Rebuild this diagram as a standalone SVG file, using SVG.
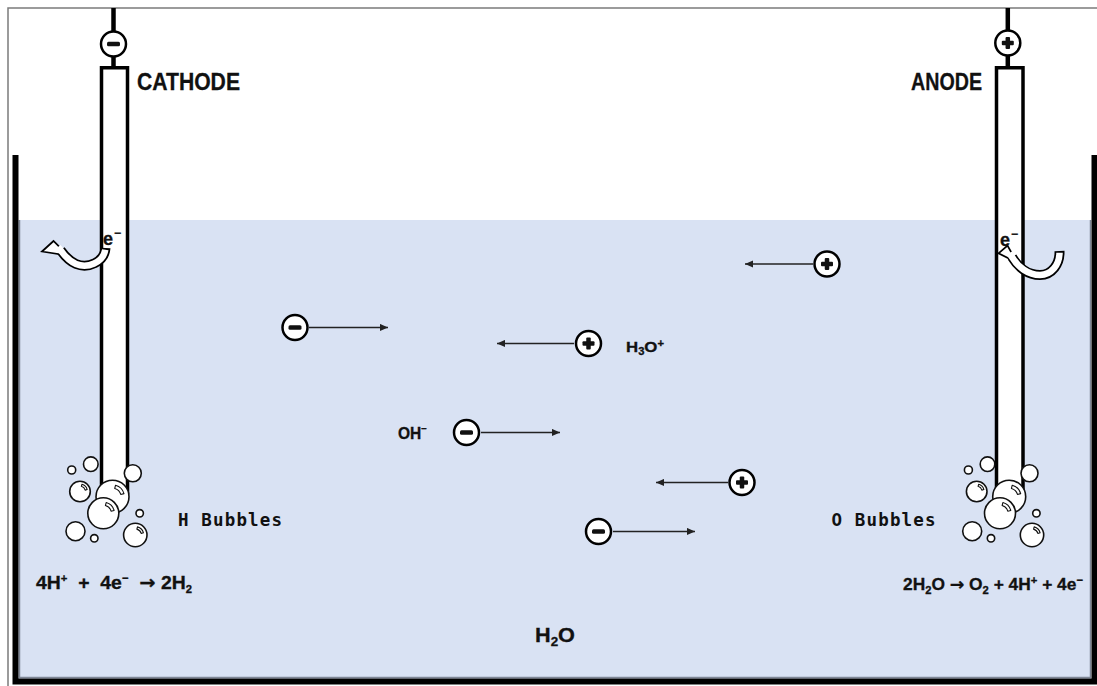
<svg xmlns="http://www.w3.org/2000/svg" width="1097" height="686" viewBox="0 0 1097 686">
<style>
.frame{fill:none;stroke:#7b7b7b;stroke-width:1.5}
.water{fill:#d9e2f3}
.rim{fill:none;stroke:#7f8796;stroke-width:1.5}
.wall{fill:none;stroke:#000;stroke-width:6}
.wire{stroke:#000;stroke-width:4.5}
.rod{fill:#fff;stroke:#000;stroke-width:3.5}
.ring{fill:#fff;stroke:#000;stroke-width:2.5}
.sign{fill:#111}
.bub{fill:#fff;stroke:#111;stroke-width:1.6}
.hl{fill:#fff;stroke:#111;stroke-width:1.1;stroke-linejoin:round;vector-effect:non-scaling-stroke}
.flow{fill:none;stroke:#222;stroke-width:1.5;marker-end:url(#tip)}
.bend-o{fill:none;stroke:#000;stroke-width:10}
.bend-i{fill:none;stroke:#fff;stroke-width:6.5;stroke-dasharray:0 1.75 1000}
.head{fill:#fff;stroke:#000;stroke-width:1.75;stroke-linejoin:miter}
.t{font-family:"Liberation Sans",Arial,sans-serif;font-weight:bold;fill:#111;stroke:#111;stroke-width:0.3}
.arw{font-family:"DejaVu Sans",sans-serif;font-weight:bold}
.mono{font-family:"DejaVu Sans Mono",monospace;font-weight:bold;fill:#111}
</style>
<defs>
  <marker id="tip" viewBox="0 0 8 8" refX="8" refY="4" markerWidth="8" markerHeight="8" markerUnits="userSpaceOnUse" orient="auto">
    <path d="M0,0.4 L8,4 L0,7.6 Z" fill="#222"/>
  </marker>
  <!-- negative / positive charge badges -->
  <g id="neg">
    <circle r="12.5" class="ring"/>
    <rect x="-6.5" y="-2.25" width="13" height="4.5" rx="1.5" class="sign"/>
  </g>
  <g id="pos">
    <circle r="12.5" class="ring"/>
    <rect x="-6" y="-2.25" width="12" height="4.5" rx="1" class="sign"/>
    <rect x="-2.25" y="-6" width="4.5" height="12" rx="1" class="sign"/>
  </g>
  <!-- glint on a unit bubble -->
  <path id="hl" class="hl" d="M0.186 -0.695 A0.72 0.72 0 0 1 0.695 -0.186 L0.502 -0.135 A0.52 0.52 0 0 0 0.135 -0.502 Z"/>
  <!-- gas bubble cluster at the foot of an electrode -->
  <g id="bubbles">
    <circle class="bub" cx="71.7" cy="470" r="4"/>
    <circle class="bub" cx="90.8" cy="464.2" r="7.3"/>
    <circle class="bub" cx="132.8" cy="473.3" r="8.5"/>
    <circle class="bub" cx="80" cy="491.5" r="10.3"/>
    <use href="#hl" transform="translate(80 491.5) scale(10.3)"/>
    <circle class="bub" cx="112.5" cy="496.7" r="16.5"/>
    <use href="#hl" transform="translate(112.5 496.7) scale(16.5)"/>
    <circle class="bub" cx="103.3" cy="513.3" r="15.5"/>
    <use href="#hl" transform="translate(103.3 513.3) scale(15.5)"/>
    <circle class="bub" cx="139.7" cy="513.3" r="3.7"/>
    <circle class="bub" cx="75.5" cy="531.2" r="9.5"/>
    <circle class="bub" cx="94.3" cy="538.3" r="3.7"/>
    <circle class="bub" cx="135.3" cy="535" r="11.7"/>
    <use href="#hl" transform="translate(135.3 535) scale(11.7)"/>
  </g>
</defs>

<!-- page frame -->
<path class="frame" d="M8 686 V8 H1097"/>

<!-- tank and electrolyte -->
<g id="tank">
  <rect class="water" x="18" y="220" width="1073" height="459"/>
  <path class="rim" d="M19.5 220 V677.5 H1090.5 V220"/>
  <path class="wall" d="M15.5 155 V681.5 H1094.5 V155"/>
</g>

<!-- cathode -->
<g id="cathode">
  <line class="wire" x1="113.5" y1="8" x2="113.5" y2="68"/>
  <use href="#neg" x="113.5" y="44"/>
  <rect class="rod" x="101.5" y="67.75" width="26" height="425"/>
  <text class="t" x="137" y="90" font-size="24" textLength="103" lengthAdjust="spacingAndGlyphs">CATHODE</text>
</g>

<!-- anode -->
<g id="anode">
  <line class="wire" x1="1007.8" y1="8" x2="1007.8" y2="68"/>
  <use href="#pos" x="1007.8" y="43"/>
  <rect class="rod" x="996.5" y="67.75" width="26.5" height="425"/>
  <text class="t" x="911" y="90" font-size="24" textLength="71" lengthAdjust="spacingAndGlyphs">ANODE</text>
</g>

<g id="cathode-bubbles">
  <use href="#bubbles"/>
  <text class="mono" x="178" y="526" font-size="17.5" textLength="104" lengthAdjust="spacing">H Bubbles</text>
</g>
<g id="anode-bubbles">
  <use href="#bubbles" transform="translate(896.7 0)"/>
  <text class="mono" x="831.5" y="526" font-size="17.5" textLength="104" lengthAdjust="spacing">O Bubbles</text>
</g>

<!-- electron flow at the electrode surfaces -->
<g id="cathode-electron">
  <path class="bend-o" d="M105.5 248 C104.5 262 88 269 76 264 C69 261 64 255 60.5 250"/>
  <polygon class="head" points="42,251.5 53.5,241 68,255.5"/>
  <path class="bend-i" d="M105.5 248 C104.5 262 88 269 76 264 C69 261 64 255 60.5 250 L58 247"/>
  <text class="t" x="103" y="245" font-size="18">e<tspan font-size="12" dx="1" dy="-8">−</tspan></text>
</g>
<g id="anode-electron">
  <path class="bend-o" d="M1059.5 251 C1060 264 1052 275 1040 275 C1028 275 1018 267 1012 257"/>
  <polygon class="head" points="998.5,253.3 1007.5,245.5 1017,262.5"/>
  <path class="bend-i" d="M1059.5 251 C1060 264 1052 275 1040 275 C1028 275 1018 267 1012 257 L1009.5 253"/>
  <text class="t" x="1000" y="246" font-size="18">e<tspan font-size="12" dx="1" dy="-8">−</tspan></text>
</g>

<!-- migrating ions -->
<g id="ion-oh-1"><use href="#neg" x="295" y="327.5"/></g>
<g id="ion-h3o-1">
  <use href="#pos" x="588.5" y="343.5"/>
  <text class="t" x="626" y="352" font-size="15" textLength="38" lengthAdjust="spacingAndGlyphs">H<tspan font-size="10" dy="3">3</tspan><tspan dy="-3">O</tspan><tspan font-size="10" dy="-5">+</tspan></text>
</g>
<g id="ion-h3o-2"><use href="#pos" x="827" y="264"/></g>
<g id="ion-oh-2">
  <use href="#neg" x="466.5" y="432.5"/>
  <text class="t" x="398" y="438.5" font-size="16" textLength="29" lengthAdjust="spacingAndGlyphs">OH<tspan font-size="10" dy="-7">−</tspan></text>
</g>
<g id="ion-h3o-3"><use href="#pos" x="742" y="482.5"/></g>
<g id="ion-oh-3"><use href="#neg" x="598.5" y="531.5"/></g>

<g id="connectors">
  <line class="flow" x1="309" y1="327.5" x2="388" y2="327.5"/>
  <line class="flow" x1="574" y1="343.5" x2="497" y2="343.5"/>
  <line class="flow" x1="813" y1="264" x2="745" y2="264"/>
  <line class="flow" x1="481" y1="432.5" x2="560" y2="432.5"/>
  <line class="flow" x1="728" y1="482.5" x2="656" y2="482.5"/>
  <line class="flow" x1="613" y1="531.5" x2="695" y2="531.5"/>
</g>

<!-- half-reactions -->
<g id="labels">
  <text class="t" x="36" y="589" font-size="19" textLength="156" lengthAdjust="spacingAndGlyphs" xml:space="preserve">4H<tspan font-size="11" dy="-7">+</tspan><tspan dy="7">  +  4e</tspan><tspan font-size="11" dy="-7">−</tspan><tspan dy="7">  </tspan><tspan class="arw">→</tspan><tspan> 2H</tspan><tspan font-size="11" dy="4">2</tspan></text>
  <text class="t" x="903" y="590" font-size="17" textLength="180" lengthAdjust="spacingAndGlyphs" xml:space="preserve">2H<tspan font-size="11" dy="4">2</tspan><tspan dy="-4">O </tspan><tspan class="arw">→</tspan><tspan> O</tspan><tspan font-size="11" dy="4">2</tspan><tspan dy="-4"> + 4H</tspan><tspan font-size="11" dy="-6">+</tspan><tspan dy="6"> + 4e</tspan><tspan font-size="11" dy="-6">−</tspan></text>
  <text class="t" x="535" y="642" font-size="21" textLength="40" lengthAdjust="spacingAndGlyphs">H<tspan font-size="13" dy="4">2</tspan><tspan dy="-4">O</tspan></text>
</g>
</svg>
